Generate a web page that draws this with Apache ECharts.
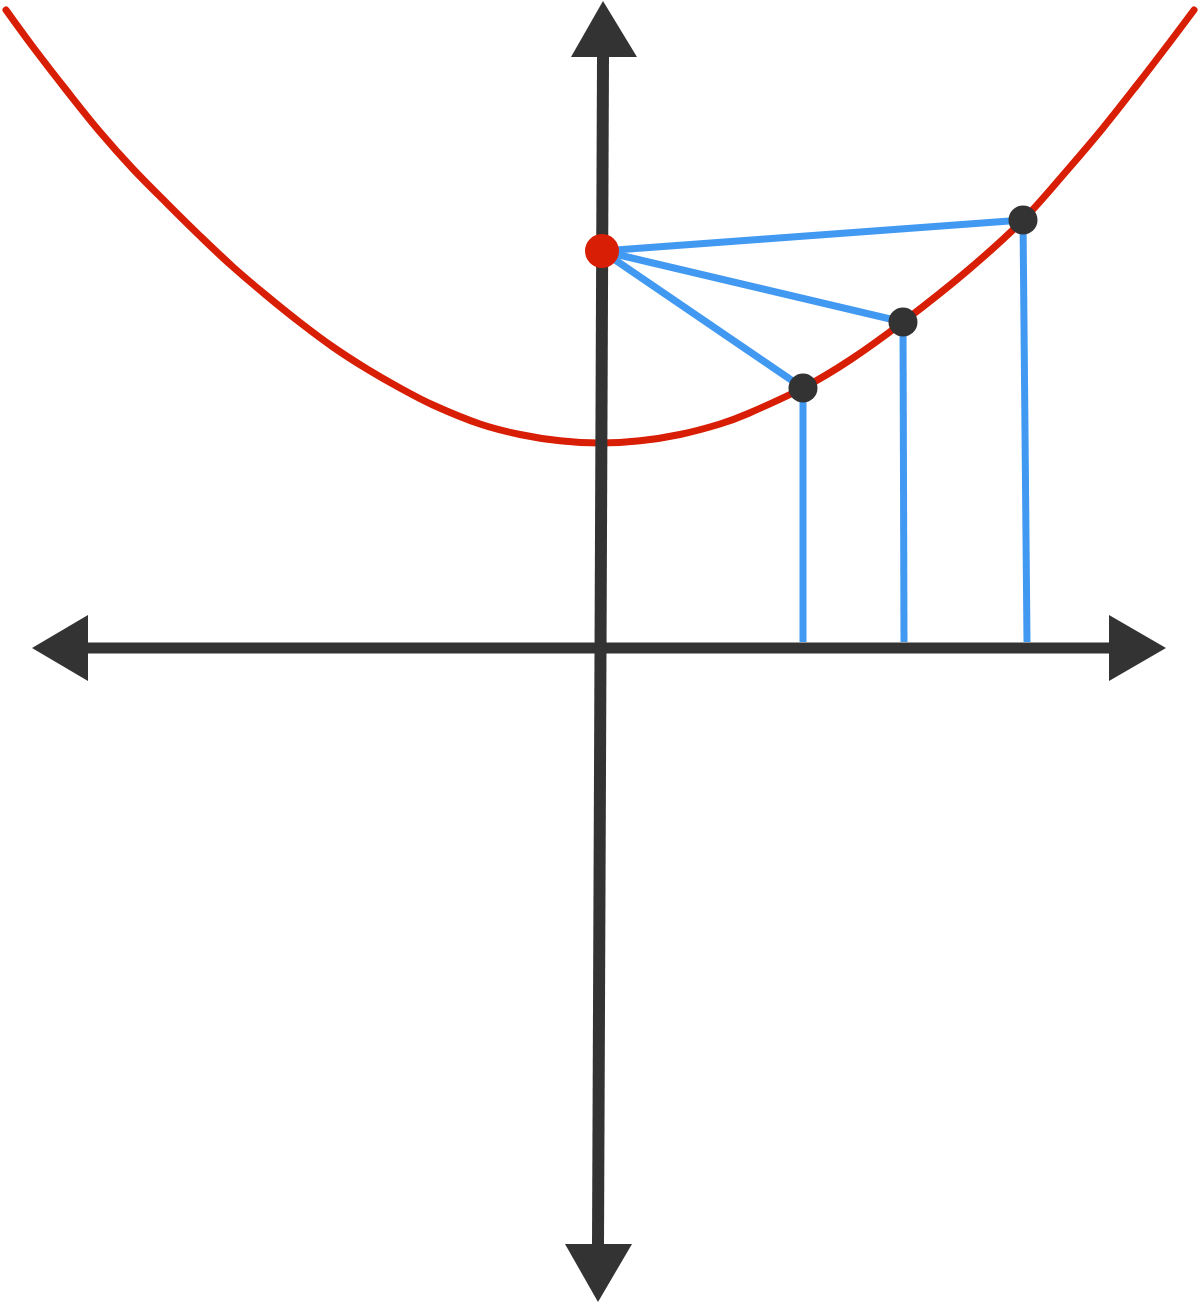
<!DOCTYPE html>
<html>
<head>
<meta charset="utf-8">
<script src="https://cdn.jsdelivr.net/npm/echarts@6/dist/echarts.min.js"></script>
<style>
html,body{margin:0;padding:0;background:#fff;}
#chart{width:1200px;height:1302px;}
</style>
</head>
<body>
<div id="chart"></div>
<script>
// Curve, units: 1 = 100px, origin at axes crossing
const curveX = [-5.94, -5.67, -5.33, -5.00, -4.67, -4.33, -4.00, -3.67, -3.33, -3.00, -2.67, -2.33, -2.00, -1.67, -1.20, -0.80, -0.40, 0.00, 0.40, 0.80, 1.20, 1.47, 2.03, 2.50, 3.03, 3.67, 4.23, 4.70, 5.03, 5.37, 5.70, 5.94];
const curveY = [6.38, 6.01, 5.57, 5.16, 4.79, 4.445, 4.12, 3.81, 3.52, 3.255, 3.01, 2.79, 2.60, 2.43, 2.24, 2.135, 2.072, 2.05, 2.072, 2.135, 2.24, 2.34, 2.60, 2.88, 3.26, 3.77, 4.28, 4.81, 5.20, 5.63, 6.06, 6.38];
// Focus point (red)
const focusPt = [0.02, 3.97];
// Points on the curve (black)
const pointsX = [2.03, 3.03, 4.23];
const pointsY = [2.60, 3.26, 4.28];
// Feet of the vertical lines on the x-axis
const footX = [2.03, 3.04, 4.27];
const footY = [0.0, 0.0, 0.0];
// Axis shafts
const xShaft = [[-5.12, 0], [5.09, 0]];
const yShaft = [[0.03, 5.91], [-0.02, -5.96]];
// Arrow heads (tip, base1, base2)
const arrowHeads = [
  [[0.03, 6.47], [-0.29, 5.91], [0.37, 5.91]],
  [[-0.02, -6.54], [-0.35, -5.96], [0.32, -5.96]],
  [[-5.68, 0], [-5.12, 0.33], [-5.12, -0.33]],
  [[5.66, 0], [5.09, 0.33], [5.09, -0.33]]
];

const RED = '#d81e05', BLUE = '#4299f2', DARK = '#333333';

const series = [];
series.push({
  type: 'line', data: curveX.map((x, i) => [x, curveY[i]]), smooth: 0.35, symbol: 'none',
  lineStyle: {color: RED, width: 7, cap: 'round'}, z: 2
});
series.push({type: 'line', data: xShaft, symbol: 'none', lineStyle: {color: DARK, width: 11}, z: 3});
series.push({type: 'line', data: yShaft, symbol: 'none', lineStyle: {color: DARK, width: 12}, z: 3});
series.push({
  type: 'custom', data: arrowHeads.map((a, i) => [i]), z: 3,
  renderItem: function (params, api) {
    const tri = arrowHeads[params.dataIndex].map(p => api.coord(p));
    return {type: 'polygon', shape: {points: tri}, style: {fill: DARK}};
  }
});
pointsX.forEach((x, i) => {
  series.push({type: 'line', data: [focusPt, [x, pointsY[i]]], symbol: 'none', lineStyle: {color: BLUE, width: 7}, z: 4});
  series.push({type: 'line', data: [[x, pointsY[i]], [footX[i], footY[i] + 0.06]], symbol: 'none', lineStyle: {color: BLUE, width: 7}, z: 4});
});
series.push({
  type: 'scatter', data: pointsX.map((x, i) => [x, pointsY[i]]), symbol: 'circle', symbolSize: 29,
  itemStyle: {color: DARK, opacity: 1}, z: 5
});
series.push({
  type: 'scatter', data: [focusPt], symbol: 'circle', symbolSize: 34,
  itemStyle: {color: RED, opacity: 1}, z: 5
});

const chart = echarts.init(document.getElementById('chart'), null, {renderer: 'canvas'});
chart.setOption({
  animation: false,
  backgroundColor: '#ffffff',
  grid: {left: 0, right: 0, top: 0, bottom: 0, containLabel: false},
  xAxis: {type: 'value', min: -6, max: 6, show: false},
  yAxis: {type: 'value', min: -6.54, max: 6.48, show: false},
  series: series
});
</script>
</body>
</html>
